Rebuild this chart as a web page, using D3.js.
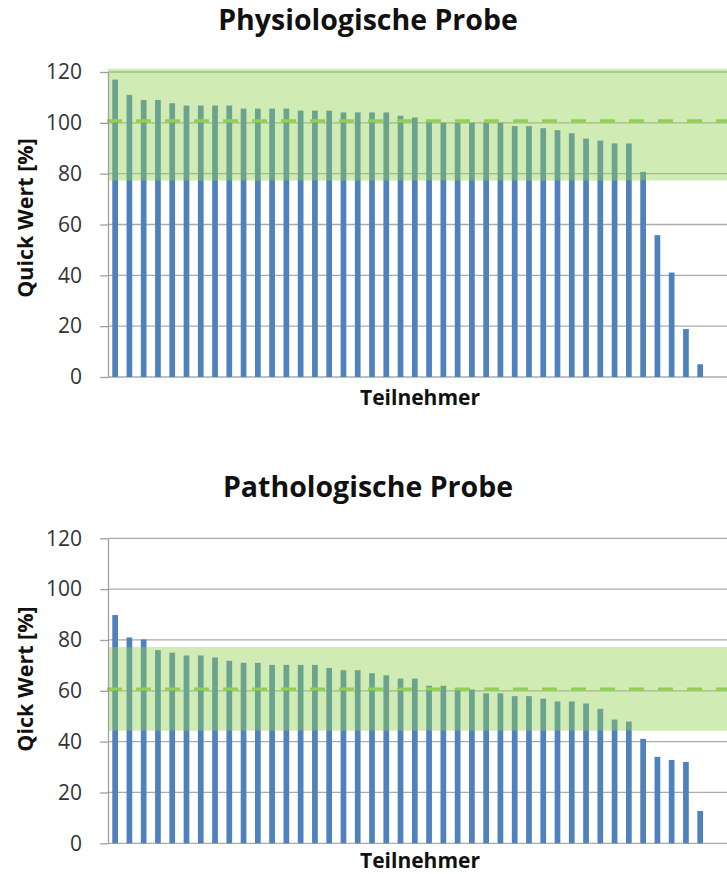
<!DOCTYPE html>
<html>
<head>
<meta charset="utf-8">
<script src="https://cdn.jsdelivr.net/npm/d3@7"></script>
<style>
  body { margin: 0; background: #fff; }
  text { font-family: "Open Sans", sans-serif; }
</style>
</head>
<body>
<script>
// Quick-Werte der Teilnehmer, absteigend sortiert
var physioValues = [117, 111, 109, 109, 107.7, 106.8, 106.8, 106.8, 106.8, 105.6,
                    105.6, 105.6, 105.6, 104.8, 104.8, 104.8, 104.1, 104.1, 104.1, 104.1,
                    102.8, 102.1, 101, 100, 100, 100, 100, 100, 98.7, 98.7,
                    97.9, 97.1, 95.9, 93.8, 93, 91.9, 91.9, 80.7, 55.8, 41.1,
                    18.9, 5];
var pathoValues = [89.8, 81, 80.2, 76, 75, 73.9, 73.9, 73.1, 71.8, 71,
                   71, 70.2, 70.2, 70.2, 70.2, 69, 68.1, 68.1, 66.9, 66.1,
                   64.8, 64.8, 62, 62, 61.1, 60.5, 59, 59, 57.9, 57.9,
                   56.9, 55.8, 55.8, 55, 52.9, 48.7, 47.9, 41.1, 34, 32.8,
                   32, 12.7];
// Zielwert und Toleranzbereich
var physioTarget = 100.8;
var physioRange = [77.3, 121.3];
var pathoTarget = 60.7;
var pathoRange = [44.3, 77.2];
var yTicks = [0, 20, 40, 60, 80, 100, 120];

var W = 727, H = 874;
var svg = d3.select("body").append("svg")
            .attr("width", W)
            .attr("height", H);

function drawPanel(p)
{
    var g = svg.append("g");
    var x = d3.scaleBand()
              .domain(d3.range(p.values.length))
              .range([p.left, p.left + p.step * p.values.length])
              .paddingInner(0.6)
              .paddingOuter(0.3);
    var y = d3.scaleLinear().domain([0, 120]).range([p.bottom, p.top]);

    // gridlines
    g.selectAll(".grid")
        .data(yTicks)
      .enter().append("line")
        .attr("class", "grid")
        .attr("x1", p.left)
        .attr("x2", p.right)
        .attr("y1", function(d) { return y(d); })
        .attr("y2", function(d) { return y(d); })
        .style("stroke", "#ababab")
        .style("stroke-width", 1.3);

    // bars
    g.selectAll(".bar")
        .data(p.values)
      .enter().append("rect")
        .attr("class", "bar")
        .attr("x", function(d, i) { return x(i); })
        .attr("width", x.bandwidth())
        .attr("y", function(d) { return y(d); })
        .attr("height", function(d) { return y(0) - y(d); })
        .style("fill", "#4f81bd");

    // tolerance band
    g.append("rect")
        .attr("x", p.left)
        .attr("width", p.right - p.left)
        .attr("y", y(p.range[1]))
        .attr("height", y(p.range[0]) - y(p.range[1]))
        .style("fill", "#92d050")
        .style("fill-opacity", 0.43);

    // target line
    g.append("line")
        .attr("x1", p.left - 1)
        .attr("x2", p.right)
        .attr("y1", y(p.target))
        .attr("y2", y(p.target))
        .style("stroke", "#92d050")
        .style("stroke-width", 3.2)
        .style("stroke-dasharray", "15,14");

    var axis = g.append("g")
        .attr("transform", "translate(" + p.left + ",0)")
        .call(d3.axisLeft(y).tickValues(yTicks).tickSize(8).tickSizeOuter(0).tickPadding(18));
    axis.select(".domain").style("stroke", "#a0a0a0").style("stroke-width", 1.3);
    axis.selectAll(".tick line").style("stroke", "#a0a0a0").style("stroke-width", 1.3);
    axis.selectAll(".tick text")
        .style("font-size", "21px")
        .style("fill", "#333")
        .style("font-family", "Open Sans");

    g.append("text")
        .attr("x", 368)
        .attr("y", p.titleY)
        .attr("text-anchor", "middle")
        .style("font-size", "28.5px")
        .style("font-weight", "bold")
        .style("fill", "#111")
        .text(p.title);

    g.append("text")
        .attr("x", 420)
        .attr("y", p.xLabelY)
        .attr("text-anchor", "middle")
        .style("font-size", "21px")
        .style("font-weight", "bold")
        .style("fill", "#111")
        .text("Teilnehmer");

    g.append("text")
        .attr("transform", "translate(33," + p.yLabelY + ") rotate(-90)")
        .attr("text-anchor", "middle")
        .style("font-size", "21.5px")
        .style("font-weight", "bold")
        .style("fill", "#111")
        .text(p.yLabel);
}

drawPanel({
    values: physioValues, target: physioTarget, range: physioRange,
    title: "Physiologische Probe", yLabel: "Quick Wert [%]",
    left: 108, right: 727, step: 14.27, top: 72, bottom: 377,
    titleY: 30, xLabelY: 405, yLabelY: 218
});
drawPanel({
    values: pathoValues, target: pathoTarget, range: pathoRange,
    title: "Pathologische Probe", yLabel: "Qick Wert [%]",
    left: 108, right: 727, step: 14.27, top: 538.3, bottom: 843.3,
    titleY: 497, xLabelY: 868, yLabelY: 679
});
</script>
</body>
</html>
